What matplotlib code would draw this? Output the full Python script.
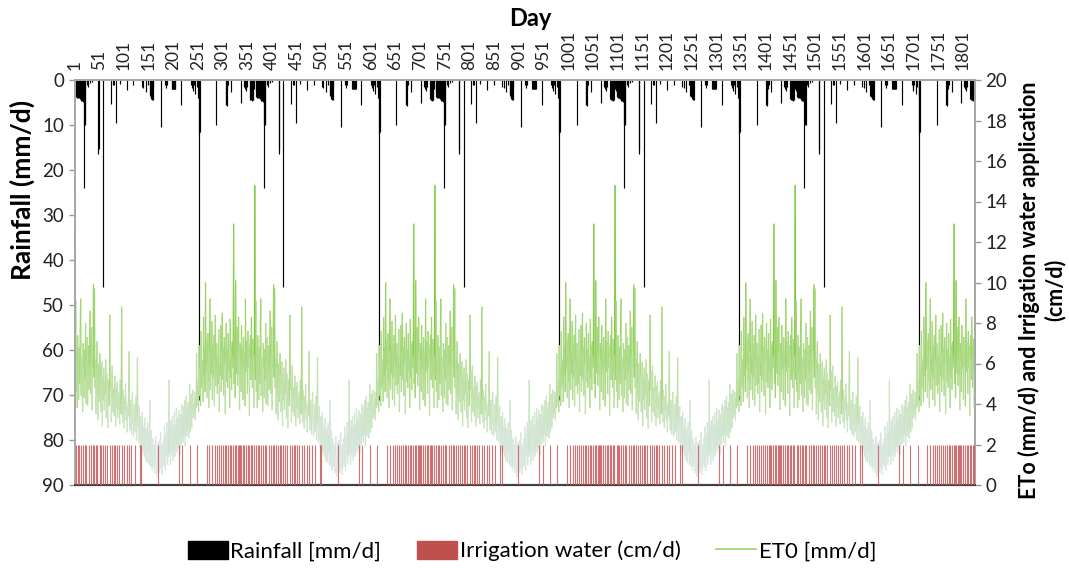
import numpy as np
import matplotlib
matplotlib.use("Agg")
import matplotlib.pyplot as plt
from matplotlib.collections import LineCollection
from matplotlib.colors import LinearSegmentedColormap, Normalize
from matplotlib.patches import Patch
from matplotlib.lines import Line2D

plt.rcParams['font.family'] = ['Lato', 'DejaVu Sans']

# ---------------- data (one simulated year, repeated for 5 years) ----------------
n_years = 5
year_len = 365

# ET0 [mm/d], day-of-year 1..365
et0_year = [
    14.8, 5.2, 9.1, 4.6, 6.9, 3.8, 7.4, 5.5, 4.2, 6.8,
    5.0, 7.6, 9.2, 4.4, 6.3, 5.1, 3.6, 7.0, 5.8, 4.3,
    6.7, 5.2, 8.0, 4.0, 6.1, 7.3, 3.9, 5.6, 6.9, 4.7,
    5.9, 8.6, 4.5, 6.4, 7.8, 3.7, 5.8, 6.6, 9.9, 5.3,
    9.7, 4.8, 6.2, 3.5, 5.7, 7.1, 4.4, 3.2, 6.0, 5.0,
    4.1, 6.5, 5.4, 3.6, 4.9, 6.1, 2.9, 5.3, 4.2, 5.8,
    3.7, 5.1, 4.5, 6.2, 3.3, 5.5, 4.0, 2.8, 5.2, 4.6,
    3.9, 8.4, 4.7, 5.6, 3.1, 4.3, 5.9, 3.6, 4.8, 4.1,
    3.4, 5.4, 4.5, 2.9, 4.9, 3.8, 5.1, 3.3, 4.4, 3.7,
    4.6, 3.0, 5.2, 4.0, 3.5, 8.8, 4.2, 3.1, 4.7, 3.6,
    2.8, 4.4, 3.7, 5.0, 3.2, 4.1, 2.6, 3.9, 3.4, 4.5,
    6.6, 3.3, 2.7, 4.2, 3.6, 2.5, 3.8, 4.6, 3.0, 2.4,
    3.5, 4.0, 2.6, 3.1, 4.4, 2.2, 3.3, 6.3, 2.9, 2.1,
    3.0, 3.9, 2.2, 1.8, 3.4, 2.6, 1.5, 3.6, 2.3, 1.7,
    2.9, 1.4, 3.3, 2.1, 1.2, 2.8, 1.9, 1.1, 3.1, 1.6,
    2.4, 1.0, 4.2, 1.7, 0.9, 2.7, 1.4, 0.7, 2.3, 1.2,
    0.9, 2.0, 0.6, 1.6, 2.4, 0.7, 0.4, 1.5, 2.1, 0.6,
    1.3, 2.2, 0.6, 1.7, 2.6, 0.8, 1.9, 0.5, 2.0, 1.1,
    2.3, 0.9, 2.9, 1.2, 0.7, 2.5, 1.5, 3.1, 1.0, 2.6,
    1.4, 5.2, 1.6, 2.8, 1.0, 3.2, 1.5, 2.6, 3.4, 1.2,
    2.9, 1.7, 3.6, 1.4, 3.0, 1.9, 3.8, 1.6, 2.9, 3.3,
    1.8, 3.7, 2.2, 1.5, 3.5, 2.7, 2.0, 4.0, 2.4, 3.4,
    2.1, 3.9, 2.5, 4.2, 1.9, 3.6, 4.4, 2.4, 3.8, 2.7,
    4.1, 2.3, 3.7, 5.0, 2.6, 4.0, 4.5, 2.8, 3.9, 4.7,
    3.3, 4.0, 3.5, 4.6, 3.2, 4.3, 3.8, 6.5, 3.9, 4.5,
    5.2, 3.6, 6.9, 4.4, 5.8, 3.9, 7.6, 4.8, 6.2, 5.0,
    4.1, 8.3, 5.4, 6.8, 4.6, 10.0, 5.7, 7.2, 4.3, 6.0,
    7.5, 5.1, 3.8, 6.6, 9.2, 4.7, 6.3, 5.5, 8.1, 4.2,
    6.9, 5.3, 7.4, 3.9, 6.1, 8.4, 4.9, 5.8, 7.0, 4.5,
    6.4, 5.0, 7.7, 3.6, 6.0, 5.4, 7.9, 4.6, 6.5, 8.5,
    5.2, 6.8, 4.4, 7.3, 5.9, 3.5, 6.2, 8.0, 5.1, 6.7,
    4.8, 7.5, 5.6, 6.3, 3.8, 8.2, 5.3, 6.9, 4.7, 7.1,
    5.8, 6.4, 12.9, 5.0, 7.6, 4.3, 10.1, 6.2, 5.5, 7.8,
    4.9, 6.6, 8.3, 5.4, 3.7, 7.0, 6.1, 4.6, 7.9, 5.7,
    6.8, 4.2, 7.3, 5.9, 6.5, 3.9, 9.2, 5.6, 7.1, 6.0,
    4.5, 7.6, 5.8, 6.9, 3.4, 6.3, 7.4, 5.2, 8.3, 6.1,
    4.8, 7.2, 5.5, 3.8, 6.4,
]

# Rainfall events [mm/d]: day-of-year and amount
rain_doy = [3, 4, 5, 6, 7, 8, 9, 10, 11, 12, 13, 14, 15, 16, 17, 18, 19, 20, 21, 22,
            25, 27, 32, 36, 49, 50, 59, 74, 78, 80, 84, 92, 106, 120, 137, 140, 145, 150,
            153, 154, 155, 156, 157, 158, 159, 160, 175, 184, 186, 188,
            198, 199, 200, 201, 202, 203, 204, 205, 217, 237, 239, 240, 242, 245, 248,
            251, 252, 253, 254, 288, 307, 308, 309, 310, 312, 318, 337, 344, 346, 348, 350,
            356, 357, 358, 359, 360, 361, 362, 363, 365]
rain_mm = [2.5, 3.8, 3.6, 3.9, 3.7, 4.0, 3.8, 4.1, 3.9, 4.3, 4.5, 4.6, 4.4, 4.7, 4.5, 4.8, 24.0, 10.0, 9.8, 10.0,
           1.2, 1.6, 0.6, 0.5, 16.4, 15.3, 46.0, 5.4, 1.0, 1.2, 9.6, 0.8, 2.2, 1.0, 1.5, 1.8, 2.6, 1.2,
           3.5, 3.0, 3.8, 4.2, 3.6, 4.4, 2.0, 4.4, 10.5, 1.0, 1.8, 1.2,
           2.0, 2.0, 2.0, 2.0, 2.0, 2.0, 2.0, 2.0, 5.6, 1.0, 1.8, 2.5, 1.2, 3.0, 1.5,
           4.0, 71.0, 11.9, 11.5, 10.0, 5.6, 5.4, 5.8, 2.0, 1.0, 2.6, 5.2, 1.5, 2.0, 2.5, 1.5,
           4.2, 4.4, 4.3, 4.5, 4.4, 4.6, 4.4, 4.5, 2.0]

# Irrigation water application [cm/d]: day-of-year of each application
irr_doy = [4, 7, 10, 14, 17, 21, 24, 29, 33, 37, 40, 44, 47, 52, 55, 59, 62, 66, 72, 76,
           80, 83, 87, 91, 96, 100, 106, 111, 116, 123, 133, 136, 169, 212, 219, 234, 249,
           269, 274, 280, 285, 289, 293, 297, 301, 305, 308, 312, 315, 318, 322, 325, 328,
           331, 333, 335, 338, 341, 345, 349, 352, 355, 358, 361, 364]
irr_amount = 2.0

x_ticks = list(range(1, 1802, 50))

# ---------------- build the full 5-year series ----------------
days = np.arange(1, n_years * year_len + 1)
et0 = np.tile(np.array(et0_year), n_years)
rain_days = np.concatenate([np.array(rain_doy) + k * year_len for k in range(n_years)])
rain_vals = np.tile(np.array(rain_mm), n_years)
irr_days = np.concatenate([np.array(irr_doy) + k * year_len for k in range(n_years)])
irr_vals = np.full(len(irr_days), irr_amount)

# ---------------- figure ----------------
W, H = 1069, 569
fig = plt.figure(figsize=(W / 100, H / 100), dpi=100)
L, R, T, B = 74.5, 975, 80, 485
ax = fig.add_axes([L / W, 1 - B / H, (R - L) / W, (B - T) / H])
ax2 = ax.twinx()

# rainfall bars (1-day columns, drawn as thin vertical strokes so none vanish)
ax.vlines(rain_days, 0, rain_vals, colors='black', linewidth=0.85, zorder=2)
ax.set_ylim(90, 0)
ax.set_xlim(0.5, n_years * year_len + 0.5)
ax.set_yticks(range(0, 91, 10))

ax.xaxis.tick_top()
ax.set_xticks(x_ticks)
ax.set_xticklabels([str(t) for t in x_ticks], rotation=90, fontsize=12.5, color='#222222')
ax.tick_params(axis='x', length=0, pad=7)
ax.tick_params(axis='y', labelsize=13.5, colors='#222222', length=4, color='#999999', width=1)

# ET0 line coloured by value (pale blue-grey low, green high)
cmap = LinearSegmentedColormap.from_list(
    'et0', [(0.0, '#e2e9ef'), (0.25, '#d5e6d8'), (0.45, '#c3e2ae'),
            (0.7, '#a0d670'), (1.0, '#7ccb3c')])
norm = Normalize(0, 10)
pts = np.column_stack([days, et0])
segs = np.stack([pts[:-1], pts[1:]], axis=1)
mid = 0.5 * (et0[:-1] + et0[1:])
lc = LineCollection(segs, colors=cmap(norm(mid)), linewidths=0.85, zorder=2)
ax2.add_collection(lc)

# irrigation bars
ax2.vlines(irr_days, 0, irr_vals, colors='#c9585a', linewidth=0.8, alpha=0.85, zorder=3)
ax2.set_ylim(0, 20)
ax2.set_yticks(range(0, 21, 2))
ax2.tick_params(axis='y', labelsize=13.5, colors='#222222', length=4, color='#999999', width=1)

for a in (ax, ax2):
    a.spines['top'].set_color('#a6a6a6')
    a.spines['left'].set_color('#a6a6a6')
    a.spines['right'].set_color('#a6a6a6')
    a.spines['bottom'].set_color('#404040')
    a.spines['bottom'].set_linewidth(1.5)
    a.spines['top'].set_linewidth(1.2)
    a.spines['left'].set_linewidth(1.2)
    a.spines['right'].set_linewidth(1.2)

# titles
fig.text(530 / W, 1 - 18 / H, 'Day', ha='center', va='center', fontsize=17, fontweight='bold')
fig.text(22 / W, 1 - 190 / H, 'Rainfall (mm/d)', ha='center', va='center', rotation=90,
         fontsize=19, fontweight='bold')
fig.text(1042 / W, 1 - 290 / H, 'ETo (mm/d) and Irrigation water application\n(cm/d)',
         ha='center', va='center', rotation=90, fontsize=15.5, fontweight='bold',
         multialignment='center', linespacing=1.25)

handles = [Patch(facecolor='black', edgecolor='black'),
           Patch(facecolor='#c0504d', edgecolor='#c0504d'),
           Line2D([0], [0], color='#9ad468', lw=1.2)]
labels = ['Rainfall [mm/d]', 'Irrigation water (cm/d)', 'ET0 [mm/d]']
fig.legend(handles, labels, loc='center', bbox_to_anchor=(532 / W, 1 - 551 / H), ncol=3,
           frameon=False, fontsize=16, handlelength=1.8, handleheight=0.9,
           columnspacing=1.6, handletextpad=0.12)

fig.savefig('out.png', dpi=100)
